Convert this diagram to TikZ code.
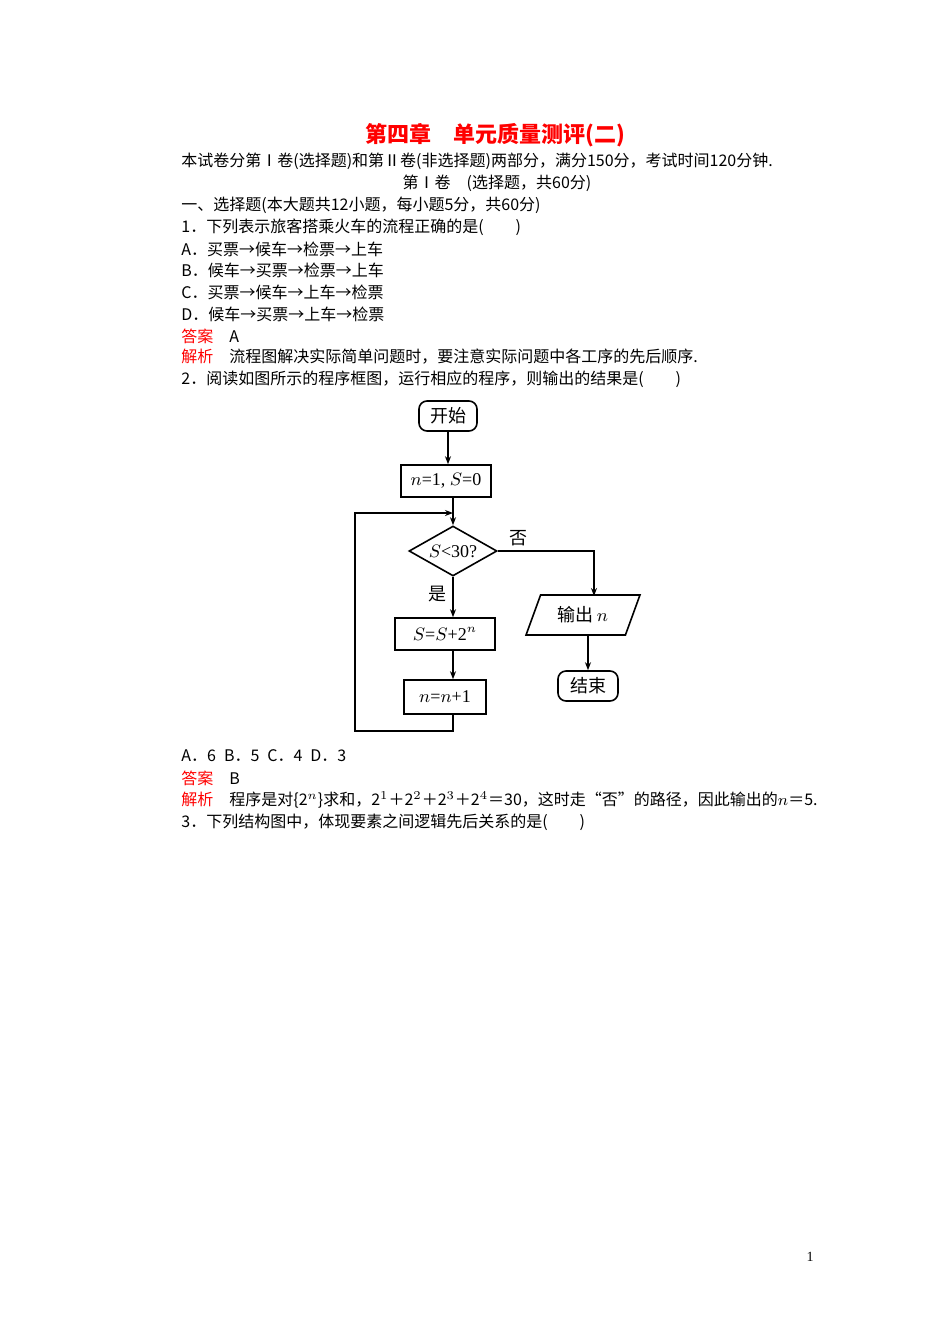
\documentclass[tikz,border=0pt]{standalone}
\usepackage{fontspec}
\setmainfont{Liberation Serif}
\newfontfamily\cjk{Noto Sans CJK SC}
\usetikzlibrary{shapes.geometric,arrows.meta}

\begin{document}
\begin{tikzpicture}[x=0.5pt,y=-0.5pt,
  txt/.style={anchor=west,inner sep=0pt,font=\cjk\fontsize{8}{10}\selectfont},
  ans/.style={txt,text=red},
  box/.style={draw,thick,minimum height=16pt,inner sep=1pt,font=\fontsize{9}{10}\selectfont},
  term/.style={box,rounded corners=4pt,font=\cjk\fontsize{9}{10}\selectfont},
  dec/.style={draw,thick,diamond,aspect=1.8,inner sep=0pt,minimum width=44pt,minimum height=25pt,font=\fontsize{9}{10}\selectfont},
  io/.style={draw,thick,trapezium,trapezium left angle=70,trapezium right angle=110,minimum height=20pt,minimum width=40pt,font=\cjk\fontsize{9}{10}\selectfont},
  flow/.style={-{Stealth[length=4pt,width=3pt]},thick}]
  \useasboundingbox (0,0) rectangle (950,1344);

  \node[font=\cjk\bfseries\fontsize{11}{13}\selectfont,text=red] (title) at (495,135) {第四章\quad 单元质量测评(二)};
  \node[txt] (l1) at (181,161) {本试卷分第Ⅰ卷(选择题)和第Ⅱ卷(非选择题)两部分，满分150分，考试时间120分钟.};
  \node[txt,anchor=center] (l2) at (497,183) {第Ⅰ卷\quad(选择题，共60分)};
  \node[txt] (l3) at (181,205) {一、选择题(本大题共12小题，每小题5分，共60分)};
  \node[txt] (l4) at (181,227) {1．下列表示旅客搭乘火车的流程正确的是(\qquad)};
  \node[txt] (l5) at (181,249) {A．买票→候车→检票→上车};
  \node[txt] (l6) at (181,270) {B．候车→买票→检票→上车};
  \node[txt] (l7) at (181,292) {C．买票→候车→上车→检票};
  \node[txt] (l8) at (181,314) {D．候车→买票→上车→检票};
  \node[ans] (l9) at (181,336) {答案\quad\textcolor{black}{A}};
  \node[ans] (l10) at (181,357) {解析\quad\textcolor{black}{流程图解决实际简单问题时，要注意实际问题中各工序的先后顺序.}};
  \node[txt] (l11) at (181,379) {2．阅读如图所示的程序框图，运行相应的程序，则输出的结果是(\qquad)};

  % flowchart
  \node[term,minimum width=29pt,minimum height=15pt] (start) at (448,416) {开始};
  \node[box,minimum width=45pt] (init) at (446,481) {$n$=1, $S$=0};
  \node[dec] (cond) at (453,551) {$S$<30?};
  \node[box,minimum width=50pt] (upd) at (445,634) {$S$=$S$+2$^n$};
  \node[box,minimum width=41pt,minimum height=17pt] (inc) at (445,697) {$n$=$n$+1};
  \node[io] (out) at (583,615) {输出\,$n$};
  \node[term,minimum width=30pt,minimum height=15pt] (stop) at (588,686) {结束};
  \node[font=\cjk\fontsize{9}{10}\selectfont] (no) at (518,538) {否};
  \node[font=\cjk\fontsize{9}{10}\selectfont] (yes) at (437,594) {是};
  \coordinate (join) at (453,513);

  \draw[flow] (start) -- (start|-init.north);
  \draw[flow] (init.south-|join) -- (cond);
  \draw[flow] (cond) -- (cond|-upd.north);
  \draw[flow] (upd.south-|cond) -- (inc.north-|cond);
  \draw[flow] (inc.south-|cond) -- ++(0,16) -| (355,513) -- (join);
  \draw[flow] (cond.east) -| (594,596);
  \draw[flow] (out.south-|stop) -- (stop);

  \node[txt] (l12) at (181,756) {A．6\enspace B．5\enspace C．4\enspace D．3};
  \node[ans] (l13) at (181,778) {答案\quad\textcolor{black}{B}};
  \node[ans] (l14) at (181,800) {解析\quad\textcolor{black}{程序是对\{2$^n$\}求和，2$^1$＋2$^2$＋2$^3$＋2$^4$＝30，这时走“否”的路径，因此输出的$n$＝5.}};
  \node[txt] (l15) at (181,822) {3．下列结构图中，体现要素之间逻辑先后关系的是(\qquad)};
  \node[font=\fontsize{7}{8}\selectfont] (page) at (810,1257) {1};
\end{tikzpicture}
\end{document}
